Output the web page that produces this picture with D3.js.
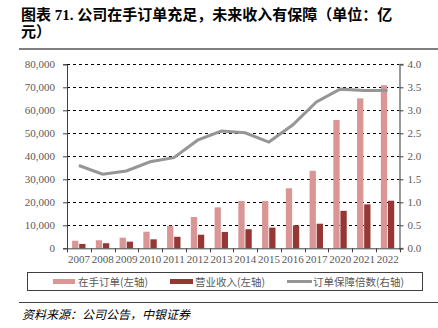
<!DOCTYPE html>
<html><head><meta charset="utf-8">
<script src="https://cdn.jsdelivr.net/npm/d3@7"></script>
<style>body{margin:0;background:#fff}svg{display:block}</style>
</head><body>
<script>
const years = ["2007","2008","2009","2010","2011","2012","2013","2014","2015","2016","2017","2020","2021","2022"];
const backlog = [3300,3500,4600,7200,9800,13600,17800,20600,20600,26100,33700,55800,65200,70900];
const revenue = [1900,2200,2900,3900,5000,5900,7100,8300,9000,10000,10700,16300,19100,20700];
const ratio = [1.80,1.61,1.68,1.88,1.97,2.35,2.55,2.51,2.31,2.68,3.18,3.46,3.43,3.43];
const leftTicks = [0,10000,20000,30000,40000,50000,60000,70000,80000];
const rightTicks = [0,0.5,1,1.5,2,2.5,3,3.5,4];
const titleLines = ["图表 71. 公司在手订单充足，未来收入有保障（单位：亿","元）"];
const legendLabels = ["在手订单(左轴)","营业收入(左轴)","订单保障倍数(右轴)"];
const sourceText = "资料来源：公司公告，中银证券";

const W=438,H=328;
const svg=d3.select("body").append("svg").attr("width",W).attr("height",H);
const L=67,R=399.5,T=64.3,B=248.3;
const x=d3.scaleBand().domain(years).range([L,R]);
const y=d3.scaleLinear().domain([0,80000]).range([B,T]);
const y2=d3.scaleLinear().domain([0,4]).range([B,T]);
const serif="'Liberation Serif','Times New Roman',serif";
const cjk="'Noto Sans CJK SC',sans-serif";
const mixed="'Liberation Serif','Noto Sans CJK SC',serif";
const grey="#595959";

// title
titleLines.forEach((s,i)=>svg.append("text").attr("x",21).attr("y",20+i*17)
  .attr("font-family",mixed).attr("font-weight","bold").attr("font-size",15).attr("fill","#000").text(s));
svg.append("line").attr("x1",19).attr("x2",W).attr("y1",49).attr("y2",49).attr("stroke","#808080").attr("stroke-width",2);

// grid
svg.append("g").selectAll("line").data(leftTicks.slice(1)).join("line")
  .attr("x1",L).attr("x2",R).attr("y1",d=>Math.round(y(d))+0.5).attr("y2",d=>Math.round(y(d))+0.5)
  .attr("stroke","#000").attr("stroke-width",1).attr("stroke-dasharray","3,3");

// bars
const bw=6.3;
svg.append("g").selectAll("rect").data(years).join("rect")
  .attr("x",d=>x(d)+x.bandwidth()/2-bw-0.5).attr("width",bw)
  .attr("y",(d,i)=>y(backlog[i])).attr("height",(d,i)=>B-y(backlog[i]))
  .attr("fill","#d99694");
svg.append("g").selectAll("rect").data(years).join("rect")
  .attr("x",d=>x(d)+x.bandwidth()/2+0.3).attr("width",bw)
  .attr("y",(d,i)=>y(revenue[i])).attr("height",(d,i)=>B-y(revenue[i]))
  .attr("fill","#953735");

// line
svg.append("path").datum(ratio)
  .attr("d",d3.line().x((d,i)=>x(years[i])+x.bandwidth()/2).y(d=>y2(d)))
  .attr("fill","none").attr("stroke","#969696").attr("stroke-width",3);

// left axis
const gl=svg.append("g").attr("transform",`translate(${L},0)`)
  .call(d3.axisLeft(y).tickValues(leftTicks).tickFormat(d3.format(",")).tickSize(4).tickPadding(8));
gl.select(".domain").attr("stroke","#404040");
gl.selectAll(".tick line").attr("stroke","#404040");
gl.selectAll("text").attr("font-family",serif).attr("font-size",11).attr("fill",grey);

// right axis
const gr=svg.append("g").attr("transform",`translate(${R},0)`)
  .call(d3.axisRight(y2).tickValues(rightTicks).tickFormat(d3.format(".1f")).tickSize(4).tickPadding(4));
gr.select(".domain").attr("stroke","#999").attr("stroke-width",2);
gr.selectAll(".tick line").attr("stroke","#404040");
gr.selectAll("text").attr("font-family",serif).attr("font-size",11).attr("fill",grey);

// bottom axis
const gb=svg.append("g").attr("transform",`translate(0,${B})`)
  .call(d3.axisBottom(x).tickSize(0).tickPadding(7));
gb.select(".domain").attr("stroke","#404040");
gb.selectAll("text").attr("font-family",serif).attr("font-size",11).attr("fill",grey);
gb.append("g").selectAll("line").data(years.concat(["end"])).join("line")
  .attr("x1",(d,i)=>Math.round(L+i*x.step())+0.5).attr("x2",(d,i)=>Math.round(L+i*x.step())+0.5)
  .attr("y1",0).attr("y2",4).attr("stroke","#404040");

// legend
svg.append("rect").attr("x",27.5).attr("y",272.5).attr("width",395).attr("height",18)
  .attr("fill","none").attr("stroke","#404040").attr("stroke-width",1);
const lg=svg.append("g");
lg.append("rect").attr("x",53).attr("y",279).attr("width",22).attr("height",5).attr("fill","#d99694");
lg.append("rect").attr("x",170).attr("y",279).attr("width",23).attr("height",5).attr("fill","#953735");
lg.append("line").attr("x1",287).attr("x2",312).attr("y1",281.5).attr("y2",281.5).attr("stroke","#969696").attr("stroke-width",3);
[[78,0],[195,1],[313,2]].forEach(([px,i])=>lg.append("text").attr("x",px).attr("y",285.5)
  .attr("font-family",cjk).attr("font-size",10.5).attr("fill",grey).text(legendLabels[i]));

// source
svg.append("line").attr("x1",19).attr("x2",W).attr("y1",302.5).attr("y2",302.5).attr("stroke","#404040").attr("stroke-width",1);
svg.append("text").attr("x",22).attr("y",319).attr("font-family",cjk).attr("font-style","italic")
  .attr("font-size",12).attr("fill","#000").text(sourceText);
</script>
</body></html>
